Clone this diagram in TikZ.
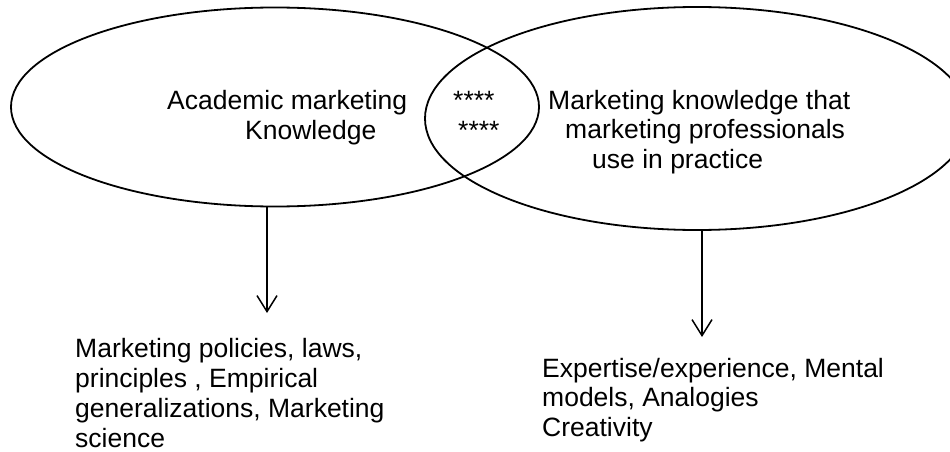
\documentclass[tikz,border=0pt]{standalone}
\usepackage{fontspec}
\setmainfont{Liberation Sans}
\usetikzlibrary{shapes.geometric,positioning,arrows.meta}

\tikzset{
	venn/.style={ellipse, draw, line width=1.8pt, inner sep=0pt},
	lbl/.style={inner sep=0pt, align=left, anchor=base west},
	down/.style={-{Straight Barb[length=16pt,width=20pt]}, line width=1.5pt}
}

\begin{document}
\begin{tikzpicture}[x=1pt,y=-1pt,font=\fontsize{26.5}{29.5}\selectfont]
		\useasboundingbox (0,0) rectangle (950,452);
		% the two overlapping sets
		\node[venn, minimum width=528pt, minimum height=199pt] (acad) at (275,107) {};
		\node[venn, minimum width=544pt, minimum height=223pt] (prac) at (697,118.5) {};
		
		% labels sit on the baseline of their last line
		\node[lbl] (acadtxt) at (167,139) {Academic marketing\\\hspace*{78pt}Knowledge};
		\node[lbl] (stars) at (453,139) {****\\\hspace*{5pt}****};
		\node[lbl] (practxt) at (548,168) {Marketing knowledge that\\\hspace*{17pt}marketing professionals\\\hspace*{44pt}use in practice};
		
		\node[lbl, font=\fontsize{26.5}{30}\selectfont] (laws) at (75,447) {Marketing policies, laws,\\principles , Empirical\\generalizations, Marketing\\science};
		\node[lbl] (skills) at (542,436) {Expertise/experience, Mental\\models, Analogies\\Creativity};
		
		\coordinate (acadtip) at (267,313);
		\coordinate (practip) at (702,337);
		\draw[down] (acadtip |- acad.south) -- (acadtip);
		\draw[down] (practip |- prac.south) -- (practip);
	\end{tikzpicture}
\end{document}
